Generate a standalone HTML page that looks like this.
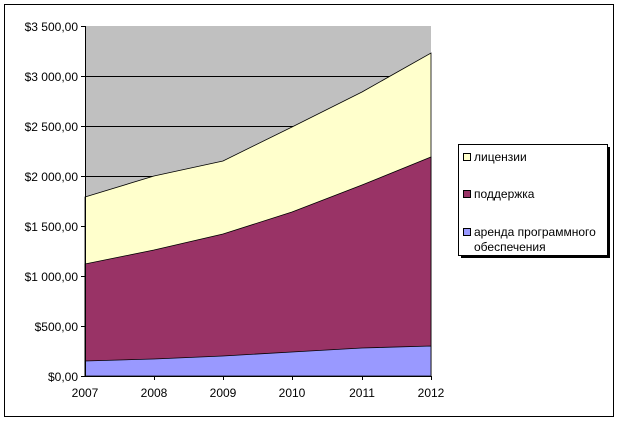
<!DOCTYPE html>
<html><head><meta charset="utf-8"><style>
body{margin:0;background:#fff;}
svg text{font-family:"Liberation Sans",Arial,sans-serif;font-size:12px;fill:#000;}
</style></head><body>
<svg width="619" height="422" xmlns="http://www.w3.org/2000/svg">
<rect x="4.5" y="4.5" width="609" height="412" fill="#fff" stroke="#000"/>
<rect x="85" y="26" width="346" height="350" fill="#C0C0C0"/>
<g stroke="#000" stroke-width="1">
<line x1="85" y1="76.5" x2="431" y2="76.5"/><line x1="85" y1="126.5" x2="431" y2="126.5"/>
<line x1="85" y1="176.5" x2="431" y2="176.5"/><line x1="85" y1="226.5" x2="431" y2="226.5"/>
<line x1="85" y1="276.5" x2="431" y2="276.5"/><line x1="85" y1="326.5" x2="431" y2="326.5"/>
</g>
<polygon points="85,197 154,176 223,161 292,127 362,92 431,53 431,376 85,376" fill="#FFFFCC" stroke="#000" stroke-width="0.8"/>
<polygon points="85,264 154,250 223,234 292,212 362,185 431,157 431,376 85,376" fill="#993366" stroke="#000" stroke-width="0.8"/>
<polygon points="85,361 154,359 223,356 292,352 362,348 431,346 431,376 85,376" fill="#9999FF" stroke="#000" stroke-width="0.8"/>
<line x1="85.5" y1="26" x2="85.5" y2="376" stroke="#000"/>
<line x1="85" y1="376.5" x2="431" y2="376.5" stroke="#000"/>
<g stroke="#000">
<line x1="81" y1="26.5" x2="85" y2="26.5"/><line x1="81" y1="76.5" x2="85" y2="76.5"/><line x1="81" y1="126.5" x2="85" y2="126.5"/><line x1="81" y1="176.5" x2="85" y2="176.5"/><line x1="81" y1="226.5" x2="85" y2="226.5"/><line x1="81" y1="276.5" x2="85" y2="276.5"/><line x1="81" y1="326.5" x2="85" y2="326.5"/><line x1="81" y1="376.5" x2="85" y2="376.5"/>
<line x1="154.5" y1="376" x2="154.5" y2="380"/><line x1="223.5" y1="376" x2="223.5" y2="380"/><line x1="292.5" y1="376" x2="292.5" y2="380"/><line x1="362.5" y1="376" x2="362.5" y2="380"/><line x1="431.5" y1="376" x2="431.5" y2="380"/>
</g>
<g text-anchor="end">
<text x="78" y="31">$3 500,00</text><text x="78" y="81">$3 000,00</text><text x="78" y="131">$2 500,00</text><text x="78" y="181">$2 000,00</text><text x="78" y="231">$1 500,00</text><text x="78" y="281">$1 000,00</text><text x="78" y="331">$500,00</text><text x="78" y="381">$0,00</text>
</g>
<g text-anchor="middle">
<text x="85" y="397">2007</text><text x="154" y="397">2008</text><text x="223" y="397">2009</text><text x="292" y="397">2010</text><text x="362" y="397">2011</text><text x="431" y="397">2012</text>
</g>
<rect x="461" y="147" width="149" height="111" fill="#000"/>
<rect x="458.5" y="144.5" width="149" height="111" fill="#fff" stroke="#000"/>
<rect x="463.5" y="153.5" width="7" height="7" fill="#FFFFCC" stroke="#000"/>
<text x="474" y="161">лицензии</text>
<rect x="463.5" y="190.5" width="7" height="7" fill="#993366" stroke="#000"/>
<text x="474" y="198">поддержка</text>
<rect x="463.5" y="228.5" width="7" height="7" fill="#9999FF" stroke="#000"/>
<text x="474" y="236">аренда программного</text>
<text x="474" y="251">обеспечения</text>
</svg>
</body></html>
